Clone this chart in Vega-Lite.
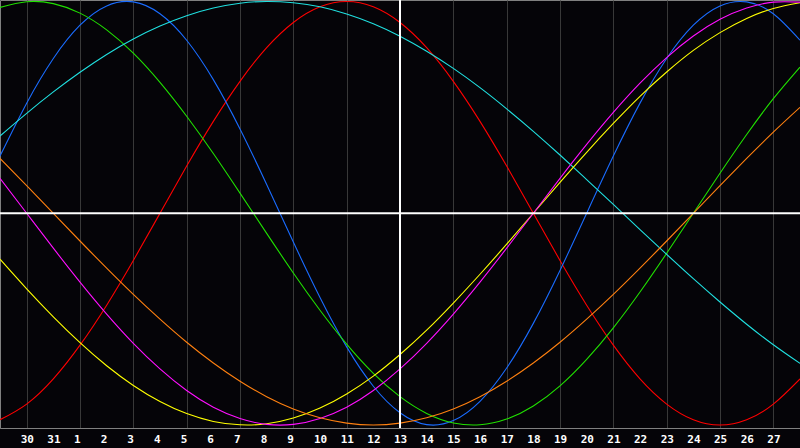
{
"$schema":"https://vega.github.io/schema/vega-lite/v6.json",
"width":800,"height":428,
"autosize":"none",
"padding":{"left":0,"top":0,"right":0,"bottom":20},
"background":"#050408",
"config":{"view":{"stroke":"#808080","strokeWidth":1,"fill":"#050408"}},
"datasets":{
"days":[
{"t":1,"d":"30"},{"t":2,"d":"31"},{"t":3,"d":"1"},{"t":4,"d":"2"},{"t":5,"d":"3"},{"t":6,"d":"4"},{"t":7,"d":"5"},{"t":8,"d":"6"},{"t":9,"d":"7"},{"t":10,"d":"8"},{"t":11,"d":"9"},{"t":12,"d":"10"},{"t":13,"d":"11"},{"t":14,"d":"12"},{"t":15,"d":"13"},{"t":16,"d":"14"},{"t":17,"d":"15"},{"t":18,"d":"16"},{"t":19,"d":"17"},{"t":20,"d":"18"},{"t":21,"d":"19"},{"t":22,"d":"20"},{"t":23,"d":"21"},{"t":24,"d":"22"},{"t":25,"d":"23"},{"t":26,"d":"24"},{"t":27,"d":"25"},{"t":28,"d":"26"},{"t":29,"d":"27"}
],
"curves":[
{"s":"r","t":0,"v":-0.975},{"s":"r","t":1,"v":-0.901},{"s":"r","t":2,"v":-0.782},{"s":"r","t":3,"v":-0.623},{"s":"r","t":4,"v":-0.434},{"s":"r","t":5,"v":-0.223},{"s":"r","t":6,"v":0},{"s":"r","t":7,"v":0.223},{"s":"r","t":8,"v":0.434},{"s":"r","t":9,"v":0.623},{"s":"r","t":10,"v":0.782},{"s":"r","t":11,"v":0.901},{"s":"r","t":12,"v":0.975},{"s":"r","t":13,"v":1},{"s":"r","t":14,"v":0.975},{"s":"r","t":15,"v":0.901},{"s":"r","t":16,"v":0.782},{"s":"r","t":17,"v":0.623},{"s":"r","t":18,"v":0.434},{"s":"r","t":19,"v":0.223},{"s":"r","t":20,"v":0},{"s":"r","t":21,"v":-0.223},{"s":"r","t":22,"v":-0.434},{"s":"r","t":23,"v":-0.623},{"s":"r","t":24,"v":-0.782},{"s":"r","t":25,"v":-0.901},{"s":"r","t":26,"v":-0.975},{"s":"r","t":27,"v":-1},{"s":"r","t":28,"v":-0.975},{"s":"r","t":29,"v":-0.901},{"s":"r","t":30,"v":-0.782},
{"s":"b","t":0,"v":0.270},{"s":"b","t":1,"v":0.520},{"s":"b","t":2,"v":0.731},{"s":"b","t":3,"v":0.888},{"s":"b","t":4,"v":0.979},{"s":"b","t":5,"v":0.998},{"s":"b","t":6,"v":0.942},{"s":"b","t":7,"v":0.817},{"s":"b","t":8,"v":0.631},{"s":"b","t":9,"v":0.398},{"s":"b","t":10,"v":0.136},{"s":"b","t":11,"v":-0.136},{"s":"b","t":12,"v":-0.398},{"s":"b","t":13,"v":-0.631},{"s":"b","t":14,"v":-0.817},{"s":"b","t":15,"v":-0.942},{"s":"b","t":16,"v":-0.998},{"s":"b","t":17,"v":-0.979},{"s":"b","t":18,"v":-0.888},{"s":"b","t":19,"v":-0.731},{"s":"b","t":20,"v":-0.520},{"s":"b","t":21,"v":-0.270},{"s":"b","t":22,"v":0},{"s":"b","t":23,"v":0.270},{"s":"b","t":24,"v":0.520},{"s":"b","t":25,"v":0.731},{"s":"b","t":26,"v":0.888},{"s":"b","t":27,"v":0.979},{"s":"b","t":28,"v":0.998},{"s":"b","t":29,"v":0.942},{"s":"b","t":30,"v":0.817},
{"s":"g","t":0,"v":0.972},{"s":"g","t":1,"v":0.999},{"s":"g","t":2,"v":0.990},{"s":"g","t":3,"v":0.945},{"s":"g","t":4,"v":0.866},{"s":"g","t":5,"v":0.756},{"s":"g","t":6,"v":0.618},{"s":"g","t":7,"v":0.458},{"s":"g","t":8,"v":0.282},{"s":"g","t":9,"v":0.095},{"s":"g","t":10,"v":-0.095},{"s":"g","t":11,"v":-0.282},{"s":"g","t":12,"v":-0.458},{"s":"g","t":13,"v":-0.618},{"s":"g","t":14,"v":-0.756},{"s":"g","t":15,"v":-0.866},{"s":"g","t":16,"v":-0.945},{"s":"g","t":17,"v":-0.990},{"s":"g","t":18,"v":-0.999},{"s":"g","t":19,"v":-0.972},{"s":"g","t":20,"v":-0.910},{"s":"g","t":21,"v":-0.815},{"s":"g","t":22,"v":-0.690},{"s":"g","t":23,"v":-0.541},{"s":"g","t":24,"v":-0.372},{"s":"g","t":25,"v":-0.189},{"s":"g","t":26,"v":0},{"s":"g","t":27,"v":0.189},{"s":"g","t":28,"v":0.372},{"s":"g","t":29,"v":0.541},{"s":"g","t":30,"v":0.690},
{"s":"c","t":0,"v":0.365},{"s":"c","t":1,"v":0.472},{"s":"c","t":2,"v":0.573},{"s":"c","t":3,"v":0.666},{"s":"c","t":4,"v":0.750},{"s":"c","t":5,"v":0.823},{"s":"c","t":6,"v":0.884},{"s":"c","t":7,"v":0.933},{"s":"c","t":8,"v":0.969},{"s":"c","t":9,"v":0.992},{"s":"c","t":10,"v":1.000},{"s":"c","t":11,"v":0.994},{"s":"c","t":12,"v":0.975},{"s":"c","t":13,"v":0.941},{"s":"c","t":14,"v":0.895},{"s":"c","t":15,"v":0.836},{"s":"c","t":16,"v":0.765},{"s":"c","t":17,"v":0.684},{"s":"c","t":18,"v":0.593},{"s":"c","t":19,"v":0.493},{"s":"c","t":20,"v":0.387},{"s":"c","t":21,"v":0.275},{"s":"c","t":22,"v":0.159},{"s":"c","t":23,"v":0.042},{"s":"c","t":24,"v":-0.077},{"s":"c","t":25,"v":-0.194},{"s":"c","t":26,"v":-0.309},{"s":"c","t":27,"v":-0.419},{"s":"c","t":28,"v":-0.524},{"s":"c","t":29,"v":-0.621},{"s":"c","t":30,"v":-0.709},
{"s":"y","t":0,"v":-0.217},{"s":"y","t":1,"v":-0.357},{"s":"y","t":2,"v":-0.489},{"s":"y","t":3,"v":-0.611},{"s":"y","t":4,"v":-0.720},{"s":"y","t":5,"v":-0.813},{"s":"y","t":6,"v":-0.889},{"s":"y","t":7,"v":-0.946},{"s":"y","t":8,"v":-0.983},{"s":"y","t":9,"v":-0.999},{"s":"y","t":10,"v":-0.994},{"s":"y","t":11,"v":-0.967},{"s":"y","t":12,"v":-0.920},{"s":"y","t":13,"v":-0.853},{"s":"y","t":14,"v":-0.769},{"s":"y","t":15,"v":-0.667},{"s":"y","t":16,"v":-0.552},{"s":"y","t":17,"v":-0.424},{"s":"y","t":18,"v":-0.288},{"s":"y","t":19,"v":-0.146},{"s":"y","t":20,"v":0},{"s":"y","t":21,"v":0.146},{"s":"y","t":22,"v":0.288},{"s":"y","t":23,"v":0.424},{"s":"y","t":24,"v":0.552},{"s":"y","t":25,"v":0.667},{"s":"y","t":26,"v":0.769},{"s":"y","t":27,"v":0.853},{"s":"y","t":28,"v":0.920},{"s":"y","t":29,"v":0.967},{"s":"y","t":30,"v":0.994},
{"s":"m","t":0,"v":0.165},{"s":"m","t":1,"v":0},{"s":"m","t":2,"v":-0.165},{"s":"m","t":3,"v":-0.325},{"s":"m","t":4,"v":-0.476},{"s":"m","t":5,"v":-0.614},{"s":"m","t":6,"v":-0.735},{"s":"m","t":7,"v":-0.837},{"s":"m","t":8,"v":-0.916},{"s":"m","t":9,"v":-0.969},{"s":"m","t":10,"v":-0.997},{"s":"m","t":11,"v":-0.997},{"s":"m","t":12,"v":-0.969},{"s":"m","t":13,"v":-0.916},{"s":"m","t":14,"v":-0.837},{"s":"m","t":15,"v":-0.735},{"s":"m","t":16,"v":-0.614},{"s":"m","t":17,"v":-0.476},{"s":"m","t":18,"v":-0.325},{"s":"m","t":19,"v":-0.165},{"s":"m","t":20,"v":0},{"s":"m","t":21,"v":0.165},{"s":"m","t":22,"v":0.325},{"s":"m","t":23,"v":0.476},{"s":"m","t":24,"v":0.614},{"s":"m","t":25,"v":0.735},{"s":"m","t":26,"v":0.837},{"s":"m","t":27,"v":0.916},{"s":"m","t":28,"v":0.969},{"s":"m","t":29,"v":0.997},{"s":"m","t":30,"v":0.997},
{"s":"o","t":0,"v":0.259},{"s":"o","t":1,"v":0.131},{"s":"o","t":2,"v":0},{"s":"o","t":3,"v":-0.131},{"s":"o","t":4,"v":-0.259},{"s":"o","t":5,"v":-0.383},{"s":"o","t":6,"v":-0.5},{"s":"o","t":7,"v":-0.609},{"s":"o","t":8,"v":-0.707},{"s":"o","t":9,"v":-0.793},{"s":"o","t":10,"v":-0.866},{"s":"o","t":11,"v":-0.924},{"s":"o","t":12,"v":-0.966},{"s":"o","t":13,"v":-0.991},{"s":"o","t":14,"v":-1},{"s":"o","t":15,"v":-0.991},{"s":"o","t":16,"v":-0.966},{"s":"o","t":17,"v":-0.924},{"s":"o","t":18,"v":-0.866},{"s":"o","t":19,"v":-0.793},{"s":"o","t":20,"v":-0.707},{"s":"o","t":21,"v":-0.609},{"s":"o","t":22,"v":-0.5},{"s":"o","t":23,"v":-0.383},{"s":"o","t":24,"v":-0.259},{"s":"o","t":25,"v":-0.131},{"s":"o","t":26,"v":0},{"s":"o","t":27,"v":0.131},{"s":"o","t":28,"v":0.259},{"s":"o","t":29,"v":0.383},{"s":"o","t":30,"v":0.5}
]
},
"layer":[
{"data":{"name":"curves"},
 "mark":{"type":"line","interpolate":"natural","strokeWidth":1.1},
 "encoding":{
  "x":{"field":"t","type":"quantitative","scale":{"domain":[0,30],"nice":false,"zero":false},
   "axis":{"values":[1,2,3,4,5,6,7,8,9,10,11,12,13,14,15,16,17,18,19,20,21,22,23,24,25,26,27,28,29],
    "title":null,"grid":true,"gridColor":"#383838","gridWidth":1,"gridOpacity":1,
    "ticks":false,"labels":false,"domain":true,"domainColor":"#808080","domainWidth":1}},
  "y":{"field":"v","type":"quantitative","scale":{"domain":[-1.014,1.007],"nice":false,"zero":false},"axis":null},
  "color":{"field":"s","type":"nominal","legend":null,
   "scale":{"domain":["o","y","m","c","g","r","b"],"range":["#ff8010","#ffff00","#ff10ff","#20e0e0","#20e000","#ff0000","#1a6cff"]}}
 }},
{"data":{"values":[{"t":15}]},
 "mark":{"type":"rule","color":"#ffffff","strokeWidth":2},
 "encoding":{"x":{"field":"t","type":"quantitative"}}},
{"data":{"values":[{"v":0}]},
 "mark":{"type":"rule","color":"#ffffff","strokeWidth":2},
 "encoding":{"y":{"field":"v","type":"quantitative"}}},
{"data":{"name":"days"},
 "mark":{"type":"text","clip":false,"align":"left","baseline":"top","dx":-6,"font":"DejaVu Sans Mono","fontWeight":"bold","fontSize":11,"color":"#ffffff"},
 "encoding":{
  "x":{"field":"t","type":"quantitative"},
  "y":{"datum":-1.0424,"type":"quantitative"},
  "text":{"field":"d"}
 }}
]
}
